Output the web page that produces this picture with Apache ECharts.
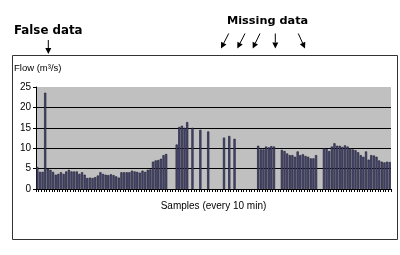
<!DOCTYPE html>
<html>
<head>
<meta charset="utf-8">
<script src="https://cdn.jsdelivr.net/npm/echarts@6/dist/echarts.min.js"></script>
<style>html,body{margin:0;padding:0;background:#fff}#c{width:400px;height:255px}</style>
</head>
<body>
<div id="c"></div>
<script>
var flowValues = [
  5.4, 4.2, 4.2, 23.6, 5.0, 4.7, 4.2, 3.5, 3.7, 4.1,
  3.7, 4.3, 4.7, 4.3, 4.3, 4.3, 3.7, 4.1, 3.5, 2.7,
  2.8, 2.7, 2.9, 3.3, 4.1, 3.7, 3.5, 3.4, 3.6, 3.4,
  3.1, 2.8, 4.1, 4.1, 4.1, 4.1, 4.5, 4.3, 4.2, 4.0,
  4.5, 4.2, 4.7, 4.8, 6.7, 7.0, 7.1, 7.4, 8.3, 8.6,
  null, null, null, 10.9, 15.2, 15.5, 15.0, 16.4, null, 15.0,
  null, null, 14.5, null, null, 14.1, null, null, null, null,
  null, 12.6, null, 13.0, null, 12.3, null, null, null, null,
  null, null, null, null, 10.6, 9.7, 9.7, 10.4, 10.2, 10.5,
  10.4, null, null, 9.6, 9.3, 8.7, 8.3, 8.3, 7.9, 9.2,
  8.3, 8.5, 8.1, 7.9, 7.5, 7.5, 8.3, null, null, 10.0,
  9.8, 9.3, 10.4, 11.2, 10.6, 10.6, 10.3, 10.7, 10.4, 10.0,
  9.7, 9.5, 9.0, 8.3, 7.9, 9.2, 7.2, 8.3, 8.2, 7.9,
  7.0, 6.7, 6.5, 6.7, 6.6
];
var sampleCategories = [];
for (var k = 0; k < flowValues.length; k++) sampleCategories.push(String(k + 1));
var yTicks = [0, 5, 10, 15, 20, 25];
var yAxisTitle = 'Flow (m\u00B3/s)';
var xAxisTitle = 'Samples (every 10 min)';
var falseLabel = 'False data';
var missingLabel = 'Missing data';

var chart = echarts.init(document.getElementById('c'), null, {renderer: 'canvas'});
var font = 'Arial, "Liberation Sans", sans-serif';
var bold = '"DejaVu Sans", sans-serif';

function arrow(x1, y1, x2, y2) {
  var dx = x2 - x1, dy = y2 - y1, len = Math.sqrt(dx*dx + dy*dy);
  var ux = dx/len, uy = dy/len, hl = 6, hw = 3;
  var bx = x2 - ux*hl, by = y2 - uy*hl;
  return [
    {type: 'line', shape: {x1: x1, y1: y1, x2: bx, y2: by}, style: {stroke: '#000', lineWidth: 1}},
    {type: 'polygon', shape: {points: [[x2, y2], [bx - uy*hw, by + ux*hw], [bx + uy*hw, by - ux*hw]]}, style: {fill: '#000'}}
  ];
}

var graphics = [
  {type: 'rect', z: -10, shape: {x: 12.5, y: 55.5, width: 385, height: 184}, style: {fill: 'none', stroke: '#333', lineWidth: 1}},
  {type: 'text', left: 14, top: 63, style: {text: yAxisTitle, font: '9.5px ' + font, fill: '#000'}},
  {type: 'text', left: 14, top: 25, style: {text: falseLabel, font: 'bold 11.8px ' + bold, fill: '#000'}},
  {type: 'text', left: 227, top: 16, style: {text: missingLabel, font: 'bold 11.3px ' + bold, fill: '#000'}}
];
graphics = graphics.concat(arrow(48.3, 40, 48.3, 54));
graphics = graphics.concat(arrow(228.7, 33.5, 221, 48.5));
graphics = graphics.concat(arrow(245, 33.5, 237.3, 48.5));
graphics = graphics.concat(arrow(260, 33.5, 252.7, 48.5));
graphics = graphics.concat(arrow(275.3, 33.5, 275.3, 48.5));
graphics = graphics.concat(arrow(298.3, 33.5, 305, 48.5));

chart.setOption({
  animation: false,
  backgroundColor: '#fff',
  grid: {left: 36, top: 87, width: 355, height: 102, show: true, backgroundColor: '#C0C0C0', borderWidth: 0},
  xAxis: {
    type: 'category', data: sampleCategories,
    axisLine: {lineStyle: {color: '#000', width: 1}},
    axisTick: {show: true, interval: 0, length: 3, lineStyle: {color: '#000'}},
    axisLabel: {show: false},
    name: xAxisTitle, nameLocation: 'middle', nameGap: 12,
    nameTextStyle: {fontFamily: font, fontSize: 10, color: '#000'}
  },
  yAxis: {
    type: 'value', min: yTicks[0], max: yTicks[yTicks.length - 1], interval: 5,
    axisLine: {show: true, lineStyle: {color: '#000', width: 1}},
    axisTick: {show: true, length: 3, lineStyle: {color: '#000'}},
    axisLabel: {fontFamily: font, fontSize: 10, color: '#000', margin: 5},
    splitLine: {show: true, lineStyle: {color: ['rgba(0,0,0,0)', '#000', '#000', '#000', '#000', 'rgba(0,0,0,0)'], width: 1}}
  },
  series: [{
    type: 'bar', data: flowValues, barCategoryGap: '18%',
    itemStyle: {color: '#4d4d7c', borderColor: '#141428', borderWidth: 0.6}
  }],
  graphic: graphics
});
</script>
</body>
</html>
